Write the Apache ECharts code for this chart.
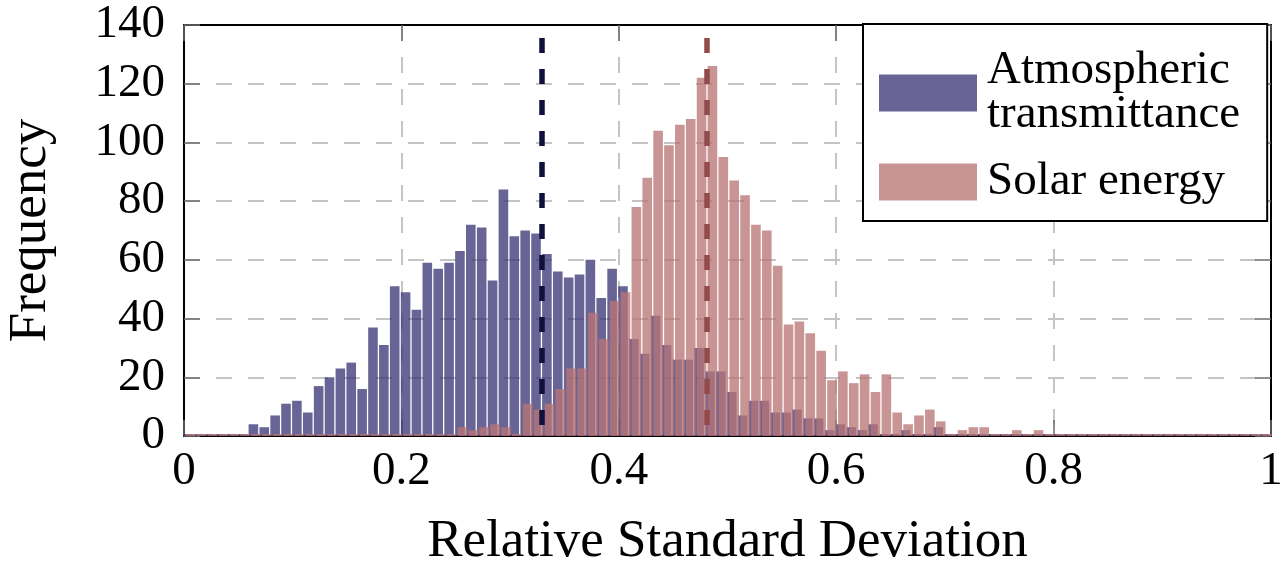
<!DOCTYPE html>
<html>
<head>
<meta charset="utf-8">
<title>Relative Standard Deviation histogram</title>
<script src="https://cdn.jsdelivr.net/npm/echarts@6/dist/echarts.min.js"></script>
<style>
html, body { margin: 0; padding: 0; background: #fff; }
#container { width: 1288px; height: 565px; }
</style>
</head>
<body>
<div id="container"></div>
<script type="text/javascript">
// histogram: 100 bins of width 0.01 on [0, 1]
var binStart = 0;
var binWidth = 0.01;

var seriesNames = ['Atmospheric\ntransmittance', 'Solar energy'];

var atmosphericCounts = [
	0, 0, 0, 0, 0, 0, 4, 3, 7, 11,
	12, 8, 17, 20, 23, 25, 16, 37, 31, 51,
	49, 43, 59, 57, 59, 63, 72, 71, 53, 84,
	68, 70, 69, 62, 56, 54, 55, 60, 47, 57,
	51, 33, 28, 41, 31, 26, 26, 30, 22, 22,
	15, 7, 12, 12, 8, 8, 9, 6, 6, 2,
	4, 3, 2, 4, 0, 0, 2, 0, 0, 3,
	0, 0, 0, 0, 0, 0, 0, 0, 0, 0,
	0, 0, 0, 0, 0, 0, 0, 0, 0, 0,
	0, 0, 0, 0, 0, 0, 0, 0, 0, 0
];

var solarCounts = [
	0, 0, 0, 0, 0, 0, 0, 0, 0, 0,
	0, 0, 0, 0, 0, 0, 0, 0, 0, 0,
	0, 0, 0, 0, 0, 3, 2, 3, 4, 3,
	0, 11, 9, 11, 16, 23, 23, 42, 33, 46,
	49, 78, 88, 104, 99, 106, 108, 122, 126, 95,
	87, 82, 72, 70, 58, 38, 39, 35, 29, 19,
	22, 18, 21, 15, 21, 8, 4, 7, 9, 5,
	0, 2, 3, 3, 0, 0, 2, 0, 2, 0,
	0, 0, 0, 0, 0, 0, 0, 0, 0, 0,
	0, 0, 0, 0, 0, 0, 0, 0, 0, 0
];

// dashed vertical lines (mean of each distribution)
var meanAtmospheric = 0.326;
var meanSolar = 0.482;

var xRange = [0, 1];
var xStep = 0.2;
var yRange = [0, 140];
var yStep = 20;

var serif = '"Liberation Serif", "DejaVu Serif", serif';

function toBins(counts) {
	var out = [];
	for (var i = 0; i < counts.length; i++) {
		out.push([binStart + (i + 0.5) * binWidth, counts[i]]);
	}
	return out;
}

var dom = document.getElementById('container');
var myChart = echarts.init(dom, null, { renderer: 'canvas' });

var tickStyle = { show: true, inside: true, length: 16, lineStyle: { color: '#6e6e6e', width: 1.5 } };
var gridDash = { show: true, lineStyle: { color: '#c4c4c4', width: 2, type: [16, 16] } };
var frameLine = { show: true, onZero: false, lineStyle: { color: '#000', width: 2 } };

var option = {
	animation: false,
	backgroundColor: '#fff',
	grid: { left: 184, right: 17, top: 25, bottom: 129, containLabel: false, outerBoundsMode: 'none' },
	legend: {
		data: seriesNames,
		orient: 'vertical',
		left: 863,
		top: 24,
		padding: [21, 27, 13, 16],
		itemGap: 15,
		itemWidth: 98,
		itemHeight: 37,
		icon: 'rect',
		borderColor: '#000',
		borderWidth: 2,
		backgroundColor: '#fff',
		selectedMode: false,
		textStyle: { fontFamily: serif, fontSize: 47, lineHeight: 44, color: '#000', padding: [0, 0, 8, 5] }
	},
	xAxis: [{
		type: 'value',
		min: xRange[0], max: xRange[1], interval: xStep,
		name: 'Relative Standard Deviation',
		nameLocation: 'middle',
		nameGap: 80,
		nameTextStyle: { fontFamily: serif, fontSize: 53, color: '#000' },
		axisLine: frameLine,
		axisTick: tickStyle,
		axisLabel: { fontFamily: serif, fontSize: 47, color: '#000', margin: 12 },
		splitLine: gridDash
	}, {
		type: 'value', position: 'top',
		min: xRange[0], max: xRange[1], interval: xStep,
		axisLine: frameLine,
		axisTick: tickStyle,
		axisLabel: { show: false },
		splitLine: { show: false }
	}],
	yAxis: [{
		type: 'value',
		min: yRange[0], max: yRange[1], interval: yStep,
		name: 'Frequency',
		nameLocation: 'middle',
		nameGap: 126,
		nameTextStyle: { fontFamily: serif, fontSize: 53, color: '#000' },
		axisLine: frameLine,
		axisTick: tickStyle,
		axisLabel: { fontFamily: serif, fontSize: 47, color: '#000', margin: 19 },
		splitLine: gridDash
	}, {
		type: 'value', position: 'right',
		min: yRange[0], max: yRange[1], interval: yStep,
		axisLine: frameLine,
		axisTick: tickStyle,
		axisLabel: { show: false },
		splitLine: { show: false }
	}],
	series: [{
		name: seriesNames[0],
		type: 'bar',
		xAxisIndex: 0, yAxisIndex: 0,
		barWidth: 9.6,
		barMinHeight: 2,
		itemStyle: { color: 'rgba(59,55,119,0.77)' },
		data: toBins(atmosphericCounts),
		markLine: {
			silent: true,
			symbol: ['none', 'none'],
			label: { show: false },
			lineStyle: { color: '#10103c', width: 5.5, type: [15, 16], dashOffset: 20 },
			data: [{ xAxis: meanAtmospheric }]
		}
	}, {
		name: seriesNames[1],
		type: 'bar',
		xAxisIndex: 0, yAxisIndex: 0,
		barWidth: 9.6,
		barGap: '-74%',
		barMinHeight: 2,
		itemStyle: { color: 'rgba(185,116,116,0.77)' },
		data: toBins(solarCounts),
		markLine: {
			silent: true,
			symbol: ['none', 'none'],
			label: { show: false },
			lineStyle: { color: '#914b4b', width: 5.5, type: [15, 16], dashOffset: 20 },
			data: [{ xAxis: meanSolar }]
		}
	}]
};

if (option && typeof option === 'object') {
	myChart.setOption(option, true);
}
</script>
</body>
</html>
